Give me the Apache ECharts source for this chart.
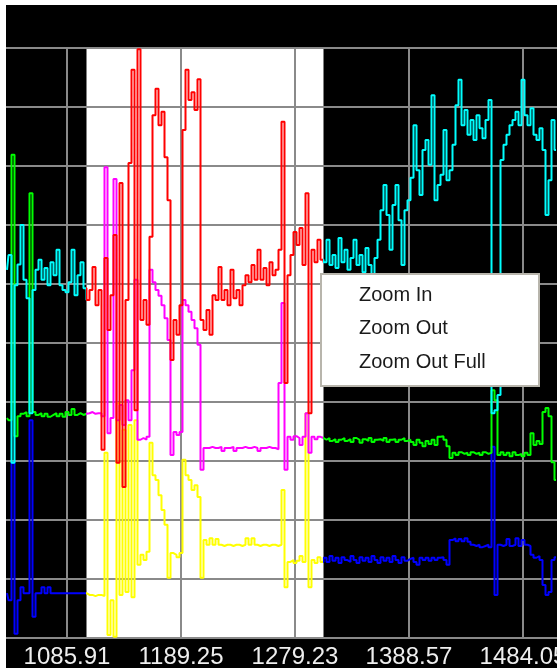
<!DOCTYPE html>
<html lang="en">
<head>
  <meta charset="UTF-8">
  <title>Trace view</title>
  <script src="https://cdn.jsdelivr.net/npm/echarts/dist/echarts.min.js"></script>
  <style>
    html, body { margin: 0; padding: 0; background: #fff; }
  </style>
</head>
<body>
  <div id="main" style="width: 557px;height:668px;"></div>
  <script>
    // tick labels of the x axis (one per grid column)
    var tickLabels = ['1085.91', '1189.25', '1279.23', '1388.57', '1484.05'];
    var tickStep = 38;          // samples between two labelled ticks
    var firstSample = 18;       // x value of the first sample
    var selectionRange = [44.5, 123.5]; // selected (highlighted) span, in samples

    // upper channel: before / inside / after the selection
    var topLeft = [62.4, 64.9, 29.7, 59.8, 63.3, 70.0, 60.7, 57.6, 38.1, 59.0, 62.4, 64.1, 60.7, 62.7,
      59.8, 63.7, 61.5, 65.8, 59.8, 59.0, 58.6, 60.3, 65.8, 58.1, 61.5, 63.7, 59.3];
    var topSel = [57.3, 59.0, 62.9, 56.4, 59.0, 31.9, 64.4, 52.2, 58.1, 68.3, 29.7, 77.1, 25.6, 57.3, 80.5,
      96.3, 38.6, 99.8, 53.9, 57.3, 53.1, 68.0, 88.6, 93.1, 86.9, 89.2, 81.5, 74.2, 47.1, 53.9,
      51.4, 56.4, 86.1, 96.3, 91.2, 92.5, 89.5, 94.7, 53.9, 52.2, 55.6, 51.4, 58.1, 57.3, 62.9,
      57.3, 59.0, 56.4, 62.4, 57.6, 59.0, 56.4, 59.8, 61.5, 60.3, 63.2, 60.7, 65.8, 60.7, 62.7,
      59.8, 63.7, 61.5, 62.4, 65.8, 87.5, 43.2, 61.5, 64.9, 68.8, 66.6, 69.5, 63.2, 75.4, 38.1,
      65.8, 63.7, 67.5, 64.1];
    var topRight = [63.7, 67.5, 63.2, 64.9, 62.7, 67.8, 63.7, 65.8, 62.4, 64.4, 67.5, 63.2, 64.9, 62.0,
      66.1, 63.2, 61.5, 64.4, 67.5, 72.5, 76.8, 71.7, 65.8, 73.4, 76.8, 70.8, 63.2, 72.5, 74.2,
      78.0, 86.9, 79.3, 75.1, 82.7, 84.4, 80.2, 92.0, 74.2, 76.8, 78.5, 86.1, 77.6, 79.3,
      83.6, 90.3, 94.6, 86.9, 89.5, 85.3, 87.8, 84.4, 88.6, 86.4, 84.7, 87.8, 91.2,
      38.1, 38.6, 41.2, 81.0, 83.6, 85.3, 86.9, 87.8, 89.2, 86.9, 94.6, 88.6, 86.9, 89.8,
      85.3, 84.4, 86.4, 82.7, 71.7, 77.6, 87.8, 82.7];

    // middle channel
    var midLeft = [37.3, 36.9, 81.9, 34.2, 37.6, 38.0, 38.3, 37.6, 75.4, 38.3, 37.8, 38.1, 37.6, 38.0,
      37.5, 37.8, 38.1, 37.6, 38.0, 37.5, 38.3, 37.8, 38.8, 37.8, 38.1, 37.8, 38.0];
    var midSel = [38.1, 38.3, 38.0, 38.1, 38.1, 37.6, 79.8, 34.7, 37.3, 77.8, 36.9, 39.5, 36.1, 40.3, 36.9,
      45.4, 60.7, 33.6, 33.9, 33.6, 34.1, 62.4, 60.3, 59.0, 58.0, 56.4, 54.2, 50.5, 31.0, 34.9,
      34.4, 34.9, 57.3, 56.4, 55.3, 53.9, 52.5, 49.7, 28.5, 32.2, 32.2, 32.4, 32.2, 32.2, 32.4,
      31.7, 32.2, 32.2, 32.4, 31.7, 32.2, 32.2, 32.4, 32.2, 32.2, 32.4, 32.2, 31.7, 32.2, 32.2,
      32.4, 32.2, 32.2, 32.0, 43.2, 56.8, 28.5, 34.1, 33.6, 34.2, 33.9, 32.7, 34.1, 38.1, 31.4,
      34.1, 33.7, 34.1, 33.9];
    var midRight = [33.6, 33.9, 33.4, 33.7, 33.2, 33.6, 33.9, 33.4, 33.7, 33.2, 33.9, 33.6, 33.1, 33.7,
      33.4, 33.9, 33.2, 33.6, 33.7, 33.4, 33.9, 33.2, 33.6, 33.7, 33.2, 33.6, 33.9, 33.4, 33.6,
      33.2, 32.7, 33.6, 33.1, 32.5, 33.4, 32.9, 33.6, 32.7, 34.1, 34.2, 33.6, 32.5, 30.5,
      31.4, 31.0, 31.5, 31.2, 31.4, 31.0, 31.5, 31.2, 31.4, 31.0, 31.5, 31.2, 31.4,
      42.0, 40.3, 31.0, 31.5, 31.0, 31.4, 30.8, 31.5, 31.0, 31.2, 30.8, 31.4, 31.0, 34.7,
      32.7, 33.4, 32.9, 38.3, 39.0, 37.6, 29.8, 26.8];

    // lower channel
    var botLeft = [7.6, 6.4, 29.7, 0.7, 6.4, 8.6, 7.6, 7.6, 36.9, 3.6, 7.6, 7.6, 8.6, 7.6, 8.6, 7.6,
      7.6, 7.6, 7.6, 7.6, 7.6, 7.6, 7.6, 7.6, 7.6, 7.6, 7.6];
    var botSel = [7.3, 7.3, 7.1, 7.3, 7.3, 7.1, 31.4, 0.5, 6.4, 0.2, 39.8, 7.3, 35.3, 7.8, 36.1,
      6.9, 36.9, 12.4, 14.1, 13.2, 14.6, 33.1, 27.6, 26.8, 24.2, 21.7, 19.2, 10.2, 14.4, 14.1,
      13.7, 14.4, 30.2, 27.6, 26.8, 25.1, 25.9, 23.9, 10.2, 16.6, 15.8, 16.9, 15.8, 16.8, 15.8,
      15.6, 15.8, 15.8, 15.6, 15.8, 15.8, 15.6, 15.8, 16.9, 15.8, 16.9, 15.8, 15.6, 15.8, 15.8,
      15.6, 15.8, 15.8, 15.6, 15.8, 25.1, 8.6, 12.9, 13.2, 12.7, 13.1, 13.9, 12.9, 38.1, 8.6,
      13.2, 12.7, 13.7, 12.9];
    var botRight = [13.6, 12.9, 13.9, 13.1, 13.6, 12.7, 13.7, 13.2, 12.9, 13.9, 13.2, 12.7, 13.7, 13.1,
      13.6, 12.9, 13.9, 13.2, 12.7, 13.7, 13.1, 13.6, 12.9, 13.9, 13.2, 12.7, 13.7, 13.1, 13.4,
      13.6, 12.9, 12.4, 13.6, 13.2, 13.6, 13.1, 13.6, 13.2, 13.6, 13.7, 13.2, 12.4, 16.6,
      16.9, 16.4, 16.8, 16.4, 16.9, 16.3, 15.8, 15.6, 15.8, 15.4, 15.6, 15.8, 15.4,
      32.4, 7.3, 15.8, 15.6, 15.8, 16.8, 15.6, 15.8, 16.9, 15.6, 16.6, 15.8, 15.6, 14.1,
      13.6, 13.9, 13.2, 9.0, 7.3, 7.8, 13.2, 13.7];

    // turn a list of values into [x, y] pairs along the sample axis
    function toPoints(values) {
      return values.map(function (v, i) { return [firstSample + i, v]; });
    }

    var myChart = echarts.init(document.getElementById('main'));

    function traceSeries(name, values) {
      return {
        name: name,
        type: 'line',
        step: 'middle',
        showSymbol: false,
        z: 3,
        lineStyle: { width: 2 },
        data: toPoints(values)
      };
    }

    // normal colour outside the selection, highlight colour inside
    function selectionMap(seriesIndex, normal, highlight) {
      return {
        type: 'piecewise',
        show: false,
        dimension: 0,
        seriesIndex: seriesIndex,
        pieces: [
          { lt: selectionRange[0], color: normal },
          { gte: selectionRange[0], lte: selectionRange[1], color: highlight },
          { gt: selectionRange[1], color: normal }
        ]
      };
    }

    var gridColor = '#8a8a8a';

    var option = {
      animation: false,
      backgroundColor: '#000',
      // the plot runs past the window on both sides
      grid: { left: -47, top: 48, width: 684, height: 590, outerBoundsMode: 'none', containLabel: false },
      xAxis: {
        type: 'value',
        min: 0,
        max: tickStep * 6,
        interval: tickStep,
        z: 2,
        axisLine: { show: true, lineStyle: { color: gridColor, width: 2 } },
        axisTick: { show: false },
        splitLine: { show: true, lineStyle: { color: gridColor, width: 2 } },
        axisLabel: {
          color: '#eeeeee',
          fontFamily: 'Liberation Sans',
          fontSize: 24,
          margin: 7,
          formatter: function (v) {
            return tickLabels[Math.round(v / tickStep) - 1] || '';
          }
        }
      },
      yAxis: {
        type: 'value',
        min: 0,
        max: 100,
        interval: 10,
        z: 2,
        axisLine: { show: false },
        axisTick: { show: false },
        axisLabel: { show: false },
        splitLine: { show: true, lineStyle: { color: gridColor, width: 2 } }
      },
      visualMap: [
        selectionMap(0, '#0000ff', '#ffff00'),
        selectionMap(1, '#00ff00', '#ff00ff'),
        selectionMap(2, '#00ffff', '#ff0000')
      ],
      series: [
        traceSeries('lower', botLeft.concat(botSel, botRight)),
        traceSeries('middle', midLeft.concat(midSel, midRight)),
        traceSeries('upper', topLeft.concat(topSel, topRight)),
        {
          // white band behind the selected span
          type: 'line',
          data: [],
          markArea: {
            silent: true,
            itemStyle: { color: '#ffffff' },
            data: [[{ xAxis: selectionRange[0] }, { xAxis: selectionRange[1] }]]
          }
        }
      ],
      graphic: [
        // white margins of the window
        { type: 'rect', z: 100, shape: { x: 0, y: 0, width: 557, height: 5 }, style: { fill: '#fff' } },
        { type: 'rect', z: 100, shape: { x: 0, y: 0, width: 6, height: 668 }, style: { fill: '#fff' } },
        // context menu
        {
          type: 'group',
          x: 321,
          y: 274,
          z: 100,
          children: [
            {
              type: 'rect',
              z: 100,
              shape: { x: 0, y: 0, width: 218, height: 112 },
              style: { fill: '#ffffff', stroke: '#b8b5ac', lineWidth: 2 }
            },
            {
              type: 'text', z: 101, x: 38, y: 21,
              style: { text: 'Zoom In', fill: '#1a1a1a', font: '20px "Liberation Sans"', verticalAlign: 'middle' }
            },
            {
              type: 'text', z: 101, x: 38, y: 54,
              style: { text: 'Zoom Out', fill: '#1a1a1a', font: '20px "Liberation Sans"', verticalAlign: 'middle' }
            },
            {
              type: 'text', z: 101, x: 38, y: 88,
              style: { text: 'Zoom Out Full', fill: '#1a1a1a', font: '20px "Liberation Sans"', verticalAlign: 'middle' }
            }
          ]
        }
      ]
    };

    myChart.setOption(option);
  </script>
</body>
</html>
